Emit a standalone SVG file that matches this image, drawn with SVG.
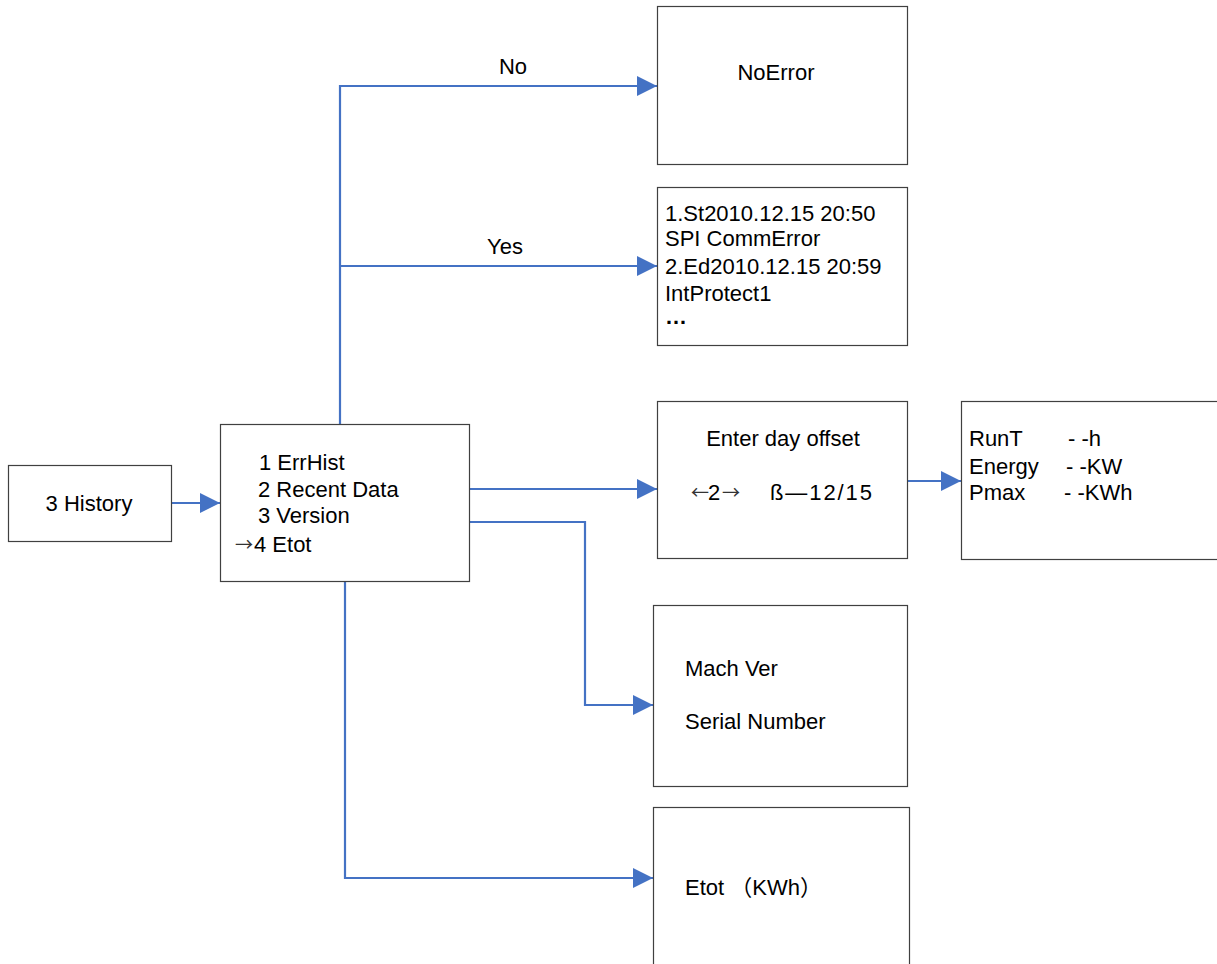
<svg xmlns="http://www.w3.org/2000/svg" width="1217" height="964" viewBox="0 0 1217 964">
<defs>
<marker id="arr" markerWidth="20" markerHeight="20" refX="20" refY="10" orient="auto" markerUnits="userSpaceOnUse">
<path d="M0,0 L20,10 L0,20 Z" fill="#4472C4"/>
</marker>
<style>
.box{fill:#fff;stroke:#404040;stroke-width:1.2}
.t{font-family:"Liberation Sans","Noto Sans CJK SC",Arial,sans-serif;font-size:22px;fill:#000}
.a{font-family:"Noto Sans CJK SC",sans-serif;font-size:18px;fill:#333}
.c{fill:none;stroke:#4472C4;stroke-width:2.2;marker-end:url(#arr)}
</style>
</defs>
<rect width="1217" height="964" fill="#fff"/>
<g id="connectors">
<path class="c" d="M171,503 H220"/>
<path class="c" d="M340,424 V86 H657"/>
<path class="c" d="M340,266 H657"/>
<path class="c" d="M469,489 H657"/>
<path class="c" d="M469,522 H585 V705 H653"/>
<path class="c" d="M345,581 V878 H653"/>
<path class="c" d="M907,481 H961"/>
<text class="t" x="513" y="74" text-anchor="middle">No</text>
<text class="t" x="505" y="254" text-anchor="middle">Yes</text>
</g>
<g id="history">
<rect class="box" x="8.5" y="465.5" width="163" height="76"/>
<text class="t" x="89" y="511" text-anchor="middle">3 History</text>
</g>
<g id="menu">
<rect class="box" x="220.5" y="424.5" width="249" height="157"/>
<text class="t" x="259" y="470">1 ErrHist</text>
<text class="t" x="258" y="497">2 Recent Data</text>
<text class="t" x="258" y="523">3 Version</text>
<text class="a" x="235" y="551">→</text>
<text class="t" x="254" y="552">4 Etot</text>
</g>
<g id="noerror">
<rect class="box" x="657.5" y="6.5" width="250" height="158"/>
<text class="t" x="776" y="80" text-anchor="middle">NoError</text>
</g>
<g id="errlist">
<rect class="box" x="657.5" y="187.5" width="250" height="158"/>
<text class="t" x="665" y="221">1.St2010.12.15 20:50</text>
<text class="t" x="665" y="246">SPI CommError</text>
<text class="t" x="665" y="274">2.Ed2010.12.15 20:59</text>
<text class="t" x="665" y="301">IntProtect1</text>
<text class="t" x="665" y="324" font-weight="bold">…</text>
</g>
<g id="dayoffset">
<rect class="box" x="657.5" y="401.5" width="250" height="157"/>
<text class="t" x="783" y="446" text-anchor="middle">Enter day offset</text>
<text class="a" x="691" y="499">←</text>
<text class="t" x="708" y="500">2</text>
<text class="a" x="722" y="499">→</text>
<text class="t" x="770" y="500" textLength="102" lengthAdjust="spacing">ß—12/15</text>
</g>
<g id="dayinfo">
<rect class="box" x="961.5" y="401.5" width="260" height="158"/>
<text class="t" x="969" y="446">RunT</text>
<text class="t" x="969" y="474">Energy</text>
<text class="t" x="969" y="500">Pmax</text>
<text class="t" x="1068" y="446">- -h</text>
<text class="t" x="1066" y="474">- -KW</text>
<text class="t" x="1064" y="500">- -KWh</text>
</g>
<g id="version">
<rect class="box" x="653.5" y="605.5" width="254" height="181"/>
<text class="t" x="685" y="676">Mach Ver</text>
<text class="t" x="685" y="729">Serial Number</text>
</g>
<g id="etot">
<rect class="box" x="653.5" y="807.5" width="256" height="170"/>
<text class="t" x="685" y="895">Etot （KWh）</text>
</g>
</svg>
